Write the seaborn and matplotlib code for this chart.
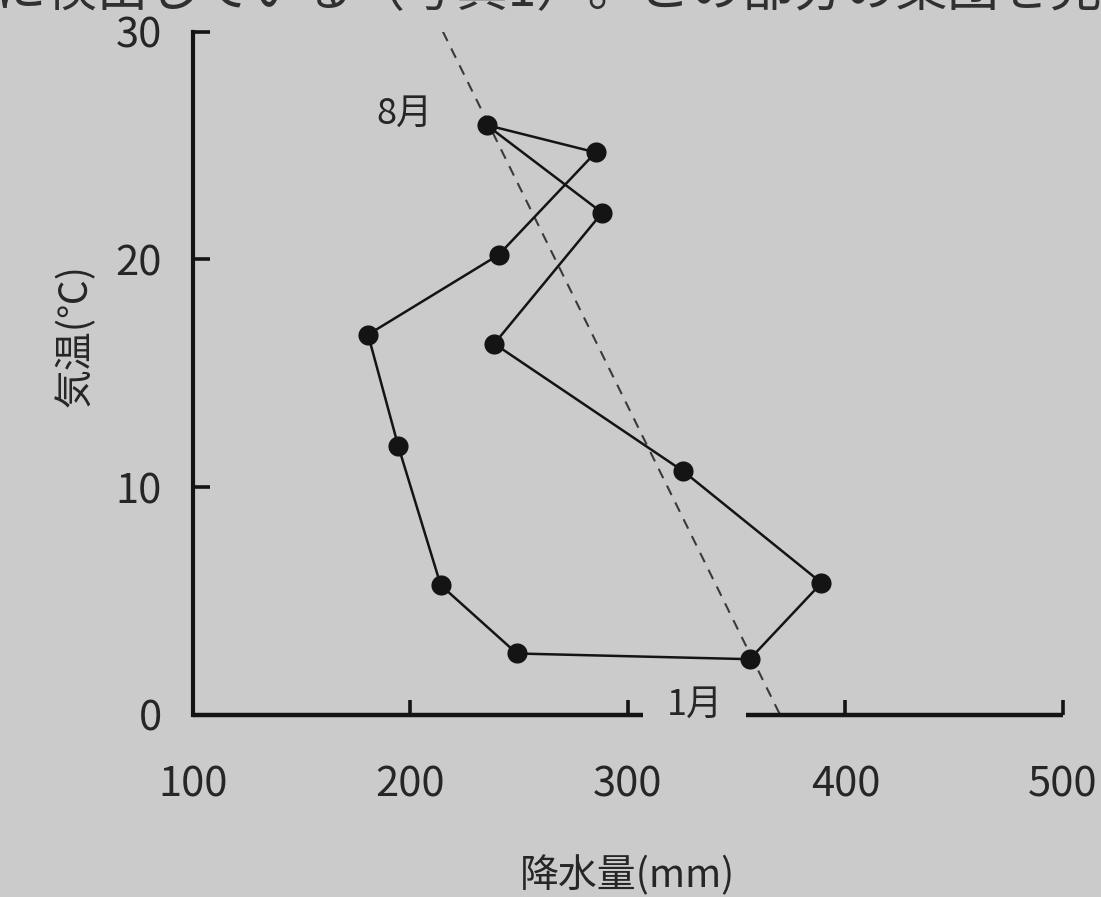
import matplotlib
matplotlib.use("Agg")
import matplotlib.pyplot as plt
import seaborn as sns
import pandas as pd

# Monthly climate: precipitation (mm) and mean temperature (°C)
months = ["1月", "2月", "3月", "4月", "5月", "6月",
          "7月", "8月", "9月", "10月", "11月", "12月"]
precip = [356, 249, 214, 194.5, 180.6, 240.6, 285.2, 235.1, 288.2, 238.6, 325.5, 389]
temp = [2.45, 2.7, 5.7, 11.8, 16.7, 20.2, 24.7, 25.9, 22.05, 16.3, 10.7, 5.8]

# Dashed reference line endpoints
ref_precip = [215, 370]
ref_temp = [30, 0]

x_ticks = [100, 200, 300, 400, 500]
y_ticks = [0, 10, 20, 30]
x_gap = (307, 354.5)   # break in the precipitation axis

sns.set_theme(style="white")
plt.rcParams["font.family"] = ["Noto Sans CJK JP", "DejaVu Sans"]

paper = "#cbcbcb"
ink = "#141414"
text_c = "#262626"

fig = plt.figure(figsize=(11.01, 8.97), dpi=100, facecolor=paper)
ax = fig.add_axes([0.175, 0.2029, 0.7905, 0.7618])
ax.set_facecolor(paper)

# Close the yearly loop back to January
loop = pd.DataFrame({
    "precip": precip + precip[:1],
    "temp": temp + temp[:1],
})
pts = pd.DataFrame({"precip": precip, "temp": temp, "month": months})
ref = pd.DataFrame({"precip": ref_precip, "temp": ref_temp})

sns.lineplot(data=ref, x="precip", y="temp", sort=False, estimator=None, ax=ax,
             color="#3a3a3a", linewidth=1.5, linestyle=(0, (5, 4)))
sns.lineplot(data=loop, x="precip", y="temp", sort=False, estimator=None,
             ax=ax, color=ink, linewidth=1.8)
sns.scatterplot(data=pts, x="precip", y="temp", ax=ax,
                color=ink, s=210, edgecolor=ink, linewidth=0, zorder=5)

ax.set_xlim(100, 500)
ax.set_ylim(0, 30)

# Axis lines: left spine plus a broken bottom axis
for s in ["top", "right", "bottom"]:
    ax.spines[s].set_visible(False)
ax.spines["left"].set_color(ink)
ax.spines["left"].set_linewidth(3.0)
ax.hlines(0, x_ticks[0], x_gap[0], color=ink, linewidth=3.2, clip_on=False, zorder=6)
ax.hlines(0, x_gap[1], x_ticks[-1], color=ink, linewidth=3.2, clip_on=False, zorder=6)

ax.set_xticks(x_ticks)
ax.set_yticks(y_ticks)
ax.set_xticklabels([str(v) for v in x_ticks])
ax.set_yticklabels([str(v) for v in y_ticks])
ax.tick_params(axis="x", direction="in", length=11, width=2.6, color=ink,
               pad=36, labelsize=30, labelcolor=text_c, bottom=True)
ax.tick_params(axis="y", direction="in", length=12, width=2.6, color=ink,
               pad=22, labelsize=30, labelcolor=text_c, left=True)
ax.xaxis.get_major_ticks()[0].tick1line.set_visible(False)
ax.yaxis.get_major_ticks()[0].tick1line.set_visible(False)

ax.set_xlabel("降水量(mm)", fontsize=28, color=text_c)
ax.set_ylabel("気温(℃)", fontsize=28, color=text_c)
ax.xaxis.label.set_va("center")
ax.yaxis.label.set_va("center")
ax.xaxis.set_label_coords(0.5, -0.236)
ax.yaxis.set_label_coords(-0.135, 0.556)

# Month labels for August and January
ax.text(precip[7] - 25, temp[7] + 0.5, months[7], fontsize=26, color=text_c,
        ha="right", va="center")
ax.text(331, 0.45, months[0], fontsize=26, color=text_c,
        ha="center", va="center")

# Running text of the page above the figure
fig.text(-0.005, 0.993, "に検出している（写真1）。この部分の集団を見",
         fontsize=37, color="#303030", ha="left", va="baseline")

ax.grid(False)
fig.savefig("out.png", dpi=100, facecolor=paper)
